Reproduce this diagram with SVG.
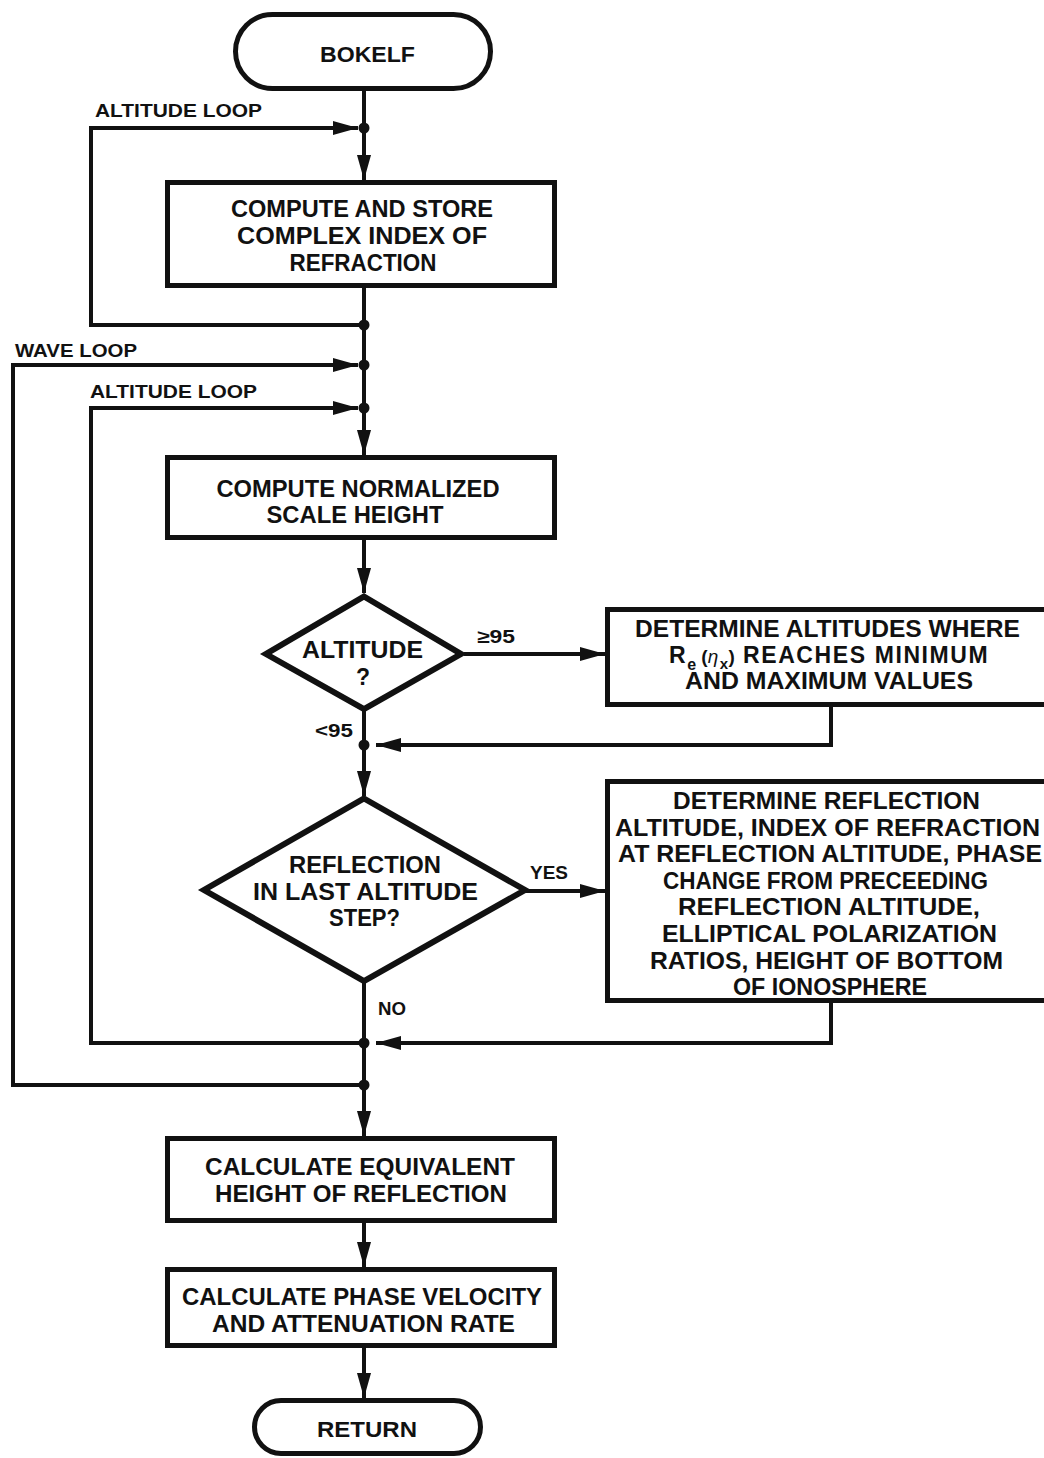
<svg xmlns="http://www.w3.org/2000/svg" width="1044" height="1458" viewBox="0 0 1044 1458">
  <style>
    .box { fill: #fff; stroke: #111; stroke-width: 5; }
    .dia { fill: #fff; stroke: #111; stroke-width: 6; stroke-linejoin: miter; }
    .flow { fill: none; stroke: #111; stroke-width: 4; stroke-linejoin: miter; }
    .dot { fill: #111; }
    text { font-family: "Liberation Sans", Arial, sans-serif; font-weight: bold; fill: #111; }
    .t { font-size: 23px; text-anchor: middle; }
    .term { font-size: 22px; text-anchor: middle; }
    .lbl { font-size: 18.5px; }
  </style>
  <defs>
    <marker id="arrow" markerUnits="userSpaceOnUse" markerWidth="26" markerHeight="14" refX="25" refY="7" orient="auto">
      <path d="M0,0 L25,7 L0,14 Z" fill="#111"/>
    </marker>
  </defs>
  <rect width="1044" height="1458" fill="#fff"/>

  <!-- connectors -->
  <g id="connectors">
    <path class="flow" d="M364,91 V180" marker-end="url(#arrow)"/>
    <path class="flow" d="M364,325 H91 V128 H358" marker-end="url(#arrow)"/>
    <path class="flow" d="M364,288 V455" marker-end="url(#arrow)"/>
    <path class="flow" d="M364,1085 H13 V365 H358" marker-end="url(#arrow)"/>
    <path class="flow" d="M364,1043 H91 V408 H358" marker-end="url(#arrow)"/>
    <path class="flow" d="M364,540 V593" marker-end="url(#arrow)"/>
    <path class="flow" d="M464,654 H605" marker-end="url(#arrow)"/>
    <path class="flow" d="M364,709 V796" marker-end="url(#arrow)"/>
    <path class="flow" d="M831,707 V745 H376" marker-end="url(#arrow)"/>
    <path class="flow" d="M525,891 H605" marker-end="url(#arrow)"/>
    <path class="flow" d="M364,981 V1136" marker-end="url(#arrow)"/>
    <path class="flow" d="M831,1003 V1043 H376" marker-end="url(#arrow)"/>
    <path class="flow" d="M364,1223 V1267" marker-end="url(#arrow)"/>
    <path class="flow" d="M364,1348 V1398" marker-end="url(#arrow)"/>
    <circle class="dot" cx="364" cy="128" r="5.5"/>
    <circle class="dot" cx="364" cy="325" r="5.5"/>
    <circle class="dot" cx="364" cy="365" r="5.5"/>
    <circle class="dot" cx="364" cy="408" r="5.5"/>
    <circle class="dot" cx="364" cy="745" r="5.5"/>
    <circle class="dot" cx="364" cy="1043" r="5.5"/>
    <circle class="dot" cx="364" cy="1085" r="5.5"/>
    <text class="lbl" x="95" y="117" textLength="167" lengthAdjust="spacingAndGlyphs">ALTITUDE LOOP</text>
    <text class="lbl" x="15" y="357" textLength="122" lengthAdjust="spacingAndGlyphs">WAVE LOOP</text>
    <text class="lbl" x="90" y="398" textLength="167" lengthAdjust="spacingAndGlyphs">ALTITUDE LOOP</text>
    <text class="lbl" x="477" y="643" textLength="38" lengthAdjust="spacingAndGlyphs">≥95</text>
    <text class="lbl" x="315" y="737" textLength="38" lengthAdjust="spacingAndGlyphs">&lt;95</text>
    <text class="lbl" x="530" y="879" textLength="38" lengthAdjust="spacingAndGlyphs">YES</text>
    <text class="lbl" x="378" y="1015" textLength="28" lengthAdjust="spacingAndGlyphs">NO</text>
  </g>

  <!-- start terminal -->
  <g id="start">
    <rect class="box" x="235.5" y="14.5" width="255" height="74" rx="37"/>
    <text class="term" x="367.5" y="62" textLength="95" lengthAdjust="spacingAndGlyphs">BOKELF</text>
  </g>

  <g id="index-of-refraction">
    <rect class="box" x="167.5" y="182.5" width="387" height="103"/>
    <text class="t" x="362" y="217" textLength="262" lengthAdjust="spacingAndGlyphs">COMPUTE AND STORE</text>
    <text class="t" x="362" y="244" textLength="250" lengthAdjust="spacingAndGlyphs">COMPLEX INDEX OF</text>
    <text class="t" x="363" y="271" textLength="147" lengthAdjust="spacingAndGlyphs">REFRACTION</text>
  </g>

  <g id="scale-height">
    <rect class="box" x="167.5" y="457.5" width="387" height="80"/>
    <text class="t" x="358" y="497" textLength="283" lengthAdjust="spacingAndGlyphs">COMPUTE NORMALIZED</text>
    <text class="t" x="355" y="523" textLength="177" lengthAdjust="spacingAndGlyphs">SCALE HEIGHT</text>
  </g>

  <g id="altitude-decision">
    <polygon class="dia" points="364,596.5 461,654 364,709 266,654"/>
    <text class="t" x="362.5" y="658" textLength="121" lengthAdjust="spacingAndGlyphs">ALTITUDE</text>
    <text class="t" x="363" y="685">?</text>
  </g>

  <g id="min-max-altitudes">
    <rect class="box" x="607.5" y="609.5" width="445" height="95"/>
    <text class="t" x="827.5" y="637" textLength="385" lengthAdjust="spacingAndGlyphs">DETERMINE ALTITUDES WHERE</text>
    <!-- R_e (eta_x) as one line with subscript shifts -->
    <text x="669" y="663" font-size="23">R<tspan dx="1.5" dy="7" font-size="16">e</tspan><tspan dy="-7" font-size="19"> (</tspan><tspan font-size="19" font-style="italic" font-weight="normal">η</tspan><tspan dx="1.5" dy="6" font-size="15">x</tspan><tspan dx="0.5" dy="-6" font-size="19">)</tspan><tspan x="743" letter-spacing="1.6">REACHES MINIMUM</tspan></text>
    <text class="t" x="829" y="689" textLength="288" lengthAdjust="spacingAndGlyphs">AND MAXIMUM VALUES</text>
  </g>

  <g id="reflection-decision">
    <polygon class="dia" points="364,798.5 525,890 364,981 204,890"/>
    <text class="t" x="365" y="873" textLength="152" lengthAdjust="spacingAndGlyphs">REFLECTION</text>
    <text class="t" x="365.5" y="900" textLength="225" lengthAdjust="spacingAndGlyphs">IN LAST ALTITUDE</text>
    <text class="t" x="364.5" y="926" textLength="71" lengthAdjust="spacingAndGlyphs">STEP?</text>
  </g>

  <g id="reflection-details">
    <rect class="box" x="607.5" y="781.5" width="445" height="219"/>
    <text class="t" x="826.5" y="809" textLength="307" lengthAdjust="spacingAndGlyphs">DETERMINE REFLECTION</text>
    <text class="t" x="827.5" y="835.6" textLength="425" lengthAdjust="spacingAndGlyphs">ALTITUDE, INDEX OF REFRACTION</text>
    <text class="t" x="830" y="862.2" textLength="424" lengthAdjust="spacingAndGlyphs">AT REFLECTION ALTITUDE, PHASE</text>
    <text class="t" x="825.5" y="888.8" textLength="325" lengthAdjust="spacingAndGlyphs">CHANGE FROM PRECEEDING</text>
    <text class="t" x="829" y="915.4" textLength="302" lengthAdjust="spacingAndGlyphs">REFLECTION ALTITUDE,</text>
    <text class="t" x="829.5" y="942" textLength="335" lengthAdjust="spacingAndGlyphs">ELLIPTICAL POLARIZATION</text>
    <text class="t" x="826.5" y="968.6" textLength="353" lengthAdjust="spacingAndGlyphs">RATIOS, HEIGHT OF BOTTOM</text>
    <text class="t" x="830" y="995.2" textLength="194" lengthAdjust="spacingAndGlyphs">OF IONOSPHERE</text>
  </g>

  <g id="equivalent-height">
    <rect class="box" x="167.5" y="1138.5" width="387" height="82"/>
    <text class="t" x="360" y="1175" textLength="310" lengthAdjust="spacingAndGlyphs">CALCULATE EQUIVALENT</text>
    <text class="t" x="361" y="1202" textLength="292" lengthAdjust="spacingAndGlyphs">HEIGHT OF REFLECTION</text>
  </g>

  <g id="phase-velocity">
    <rect class="box" x="167.5" y="1269.5" width="387" height="76"/>
    <text class="t" x="362" y="1305" textLength="360" lengthAdjust="spacingAndGlyphs">CALCULATE PHASE VELOCITY</text>
    <text class="t" x="363.5" y="1332" textLength="303" lengthAdjust="spacingAndGlyphs">AND ATTENUATION RATE</text>
  </g>

  <!-- end terminal -->
  <g id="return">
    <rect class="box" x="254.5" y="1400.5" width="226" height="53" rx="26.5"/>
    <text class="term" x="367" y="1437" textLength="100" lengthAdjust="spacingAndGlyphs">RETURN</text>
  </g>
</svg>
